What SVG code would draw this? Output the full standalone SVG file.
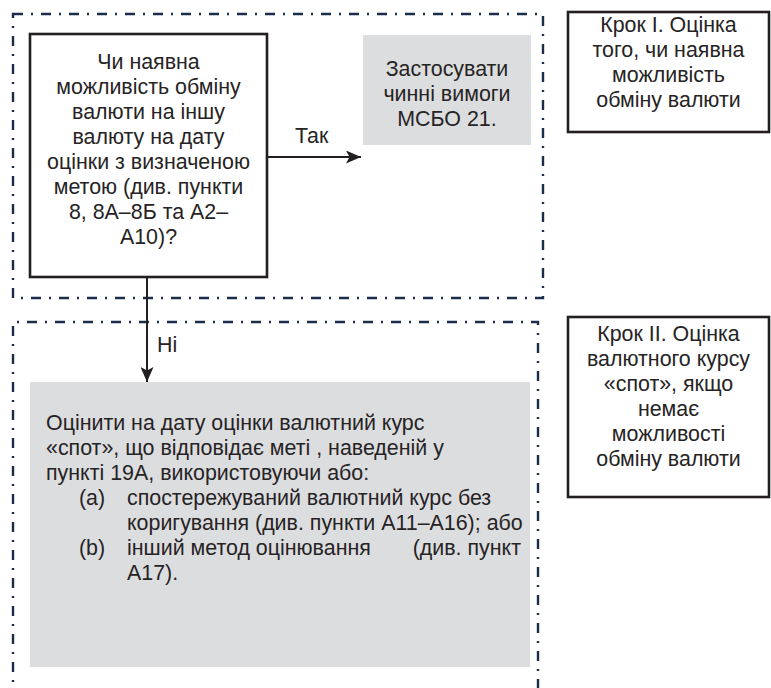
<svg xmlns="http://www.w3.org/2000/svg" width="771" height="688" viewBox="0 0 771 688">
<style>
  text { font-family: "Liberation Sans", Arial, sans-serif; font-size: 21.4px; fill: #262324; }
  .c { text-anchor: middle; }
  .frame { fill: none; stroke: #1c2d4c; stroke-width: 2.4; stroke-dasharray: 10 8 2 8; }
  .box { fill: #ffffff; stroke: #231f20; stroke-width: 2.6; }
  .grey { fill: #dcdddf; stroke: none; }
  .conn { stroke: #231f20; stroke-width: 2; fill: none; }
</style>
<defs>
  <marker id="ah" viewBox="0 0 15 13" refX="15" refY="6.5" markerWidth="15" markerHeight="13" markerUnits="userSpaceOnUse" orient="auto">
    <path d="M0,0 L15,6.5 L0,13 L3.5,6.5 Z" fill="#231f20"/>
  </marker>
</defs>
<g id="frames">
  <rect class="frame" x="13" y="14" width="530" height="284"/>
  <path class="frame" d="M13,700 L13,322 L538,322 L538,700"/>
</g>
<g id="decision">
  <rect class="box" x="30" y="34" width="237" height="243"/>
  <text class="c" x="148.5" y="69">Чи наявна</text>
  <text class="c" x="148.5" y="94">можливість обміну</text>
  <text class="c" x="148.5" y="119">валюти на іншу</text>
  <text class="c" x="148.5" y="144">валюту на дату</text>
  <text class="c" x="148.5" y="169">оцінки з визначеною</text>
  <text class="c" x="148.5" y="194">метою (див. пункти</text>
  <text class="c" x="148.5" y="219">8, 8А–8Б та А2–</text>
  <text class="c" x="148.5" y="244">А10)?</text>
</g>
<g id="apply">
  <rect class="grey" x="363" y="35" width="168" height="110"/>
  <text class="c" x="447" y="76">Застосувати</text>
  <text class="c" x="447" y="101">чинні вимоги</text>
  <text class="c" x="447" y="126">МСБО 21.</text>
</g>
<g id="step1">
  <rect class="box" x="568" y="12" width="201" height="120"/>
  <text class="c" x="668.5" y="32">Крок І. Оцінка</text>
  <text class="c" x="668.5" y="57">того, чи наявна</text>
  <text class="c" x="668.5" y="82">можливість</text>
  <text class="c" x="668.5" y="107">обміну валюти</text>
</g>
<g id="estimate">
  <rect class="grey" x="30" y="382" width="500" height="285"/>
  <text x="46" y="430">Оцінити на дату оцінки валютний курс</text>
  <text x="46" y="455">«спот», що відповідає меті , наведеній у</text>
  <text x="46" y="480">пункті 19А, використовуючи або:</text>
  <text x="79" y="505">(a)</text>
  <text x="127" y="505">спостережуваний валютний курс без</text>
  <text x="127" y="530">коригування (див. пункти А11–А16); або</text>
  <text x="79" y="555">(b)</text>
  <text x="127" y="555">інший метод оцінювання</text>
  <text x="521" y="555" text-anchor="end">(див. пункт</text>
  <text x="127" y="580">А17).</text>
</g>
<g id="step2">
  <rect class="box" x="568" y="317" width="201" height="180"/>
  <text class="c" x="668.5" y="341">Крок ІІ. Оцінка</text>
  <text class="c" x="668.5" y="366">валютного курсу</text>
  <text class="c" x="668.5" y="391">«спот», якщо</text>
  <text class="c" x="668.5" y="416">немає</text>
  <text class="c" x="668.5" y="441">можливості</text>
  <text class="c" x="668.5" y="466">обміну валюти</text>
</g>
<g id="connectors">
  <line class="conn" x1="268" y1="157" x2="361" y2="157" marker-end="url(#ah)"/>
  <text x="295" y="143">Так</text>
  <line class="conn" x1="147" y1="278" x2="147" y2="382" marker-end="url(#ah)"/>
  <text x="157" y="352">Ні</text>
</g>
</svg>
